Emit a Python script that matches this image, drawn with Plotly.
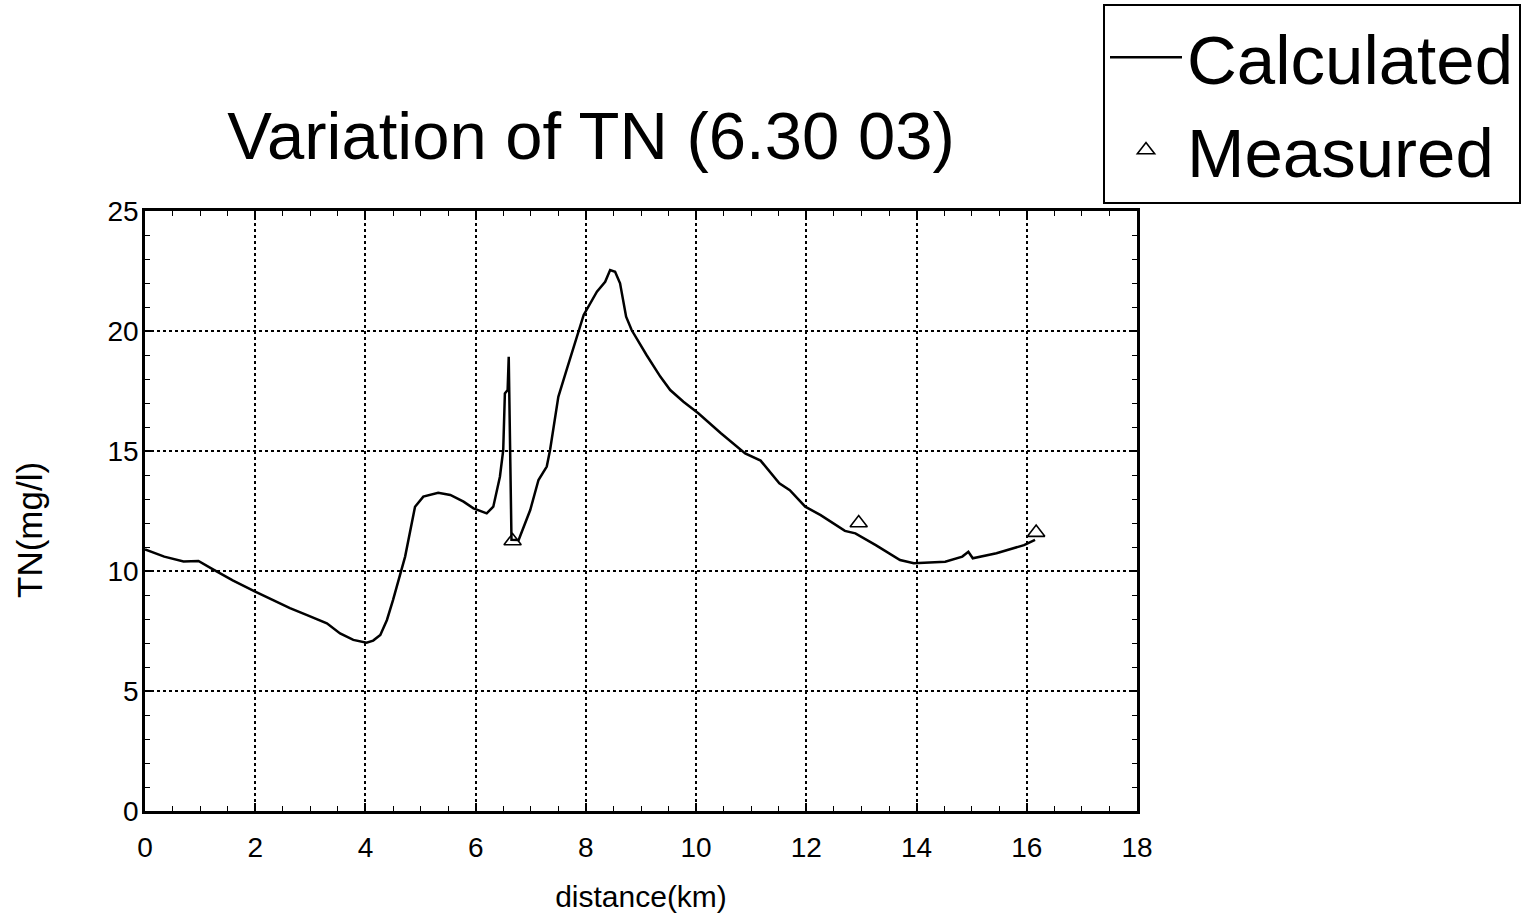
import plotly.graph_objects as go

# Calculated total nitrogen along the river (km, mg/l)
distance_km = [0.0, 0.35, 0.7, 0.97, 1.21, 1.6, 2.0, 2.63, 2.93, 3.3, 3.54, 3.78,
               4.02, 4.14, 4.27, 4.39, 4.5, 4.72, 4.9, 5.05, 5.32, 5.54, 5.78, 5.96,
               6.2, 6.32, 6.44, 6.5, 6.53, 6.58, 6.6, 6.65, 6.78, 6.99, 7.14, 7.29,
               7.35, 7.5, 7.65, 7.86, 7.96, 8.2, 8.35, 8.44, 8.53, 8.62, 8.73, 8.83,
               9.1, 9.35, 9.53, 9.77, 10.04, 10.45, 10.89, 11.17, 11.51, 11.7, 11.98,
               12.26, 12.7, 12.89, 13.26, 13.7, 13.95, 14.52, 14.83, 14.94, 15.02,
               15.45, 15.95, 16.15]
tn_calculated = [10.9, 10.6, 10.4, 10.42, 10.1, 9.6, 9.14, 8.45, 8.17, 7.82, 7.4, 7.13,
                 7.01, 7.1, 7.33, 7.96, 8.79, 10.6, 12.68, 13.1, 13.26, 13.17, 12.89, 12.61,
                 12.4, 12.68, 13.93, 15.04, 17.4, 17.54, 18.93, 11.3, 11.29, 12.54, 13.79, 14.35,
                 15.04, 17.26, 18.38, 19.9, 20.67, 21.64, 22.05, 22.54, 22.47, 21.99, 20.6, 20.04,
                 19.0, 18.1, 17.54, 17.05, 16.57, 15.74, 14.9, 14.6, 13.65, 13.37, 12.68,
                 12.33, 11.67, 11.57, 11.08, 10.46, 10.32, 10.39, 10.6, 10.8, 10.53,
                 10.74, 11.08, 11.3]

# Field measurements
measured_km = [6.67, 12.95, 16.17]
tn_measured = [11.25, 12.0, 11.6]

x_ticks = [0, 2, 4, 6, 8, 10, 12, 14, 16, 18]
y_ticks = [0, 5, 10, 15, 20, 25]

SANS = "Liberation Sans, Arial, sans-serif"
W, H = 1530, 921

fig = go.Figure()
fig.add_trace(go.Scatter(
    x=distance_km, y=tn_calculated, mode="lines", name="Calculated",
    line=dict(color="black", width=2.5),
))
fig.add_trace(go.Scatter(
    x=measured_km, y=tn_measured, mode="markers", name="Measured",
    marker=dict(symbol="triangle-up-open", size=15, color="black",
                line=dict(color="black", width=1.6)),
))

axis_common = dict(
    showline=True, linecolor="black", linewidth=2.5, mirror="ticks",
    ticks="inside", tickcolor="black", tickwidth=1.5, ticklen=8,
    showgrid=True, gridcolor="black", gridwidth=1.6, griddash="dot",
    zeroline=False,
    tickfont=dict(family=SANS, size=28, color="black"),
)

fig.update_xaxes(
    range=[0, 18], tickvals=x_ticks, ticktext=[str(v) for v in x_ticks],
    minor=dict(dtick=0.5, ticks="inside", ticklen=5, tickcolor="black",
               tickwidth=1.2, showgrid=False),
    title=dict(text="distance(km)", font=dict(family=SANS, size=30, color="black"),
               standoff=24),
    ticklabelstandoff=10,
    **axis_common,
)
fig.update_yaxes(
    range=[0, 25], tickvals=y_ticks, ticktext=[str(v) for v in y_ticks],
    minor=dict(dtick=1, ticks="inside", ticklen=5, tickcolor="black",
               tickwidth=1.2, showgrid=False),
    ticklabelstandoff=-2,
    **axis_common,
)

# y-axis caption, placed in page pixels
fig.add_annotation(
    text="TN(mg/l)", textangle=-90, showarrow=False,
    xref="paper", yref="paper",
    x=(29 - 145) / 992, y=(811 - 530) / 600, xanchor="center", yanchor="middle",
    font=dict(family=SANS, size=35, color="black"),
)

fig.update_layout(
    width=W, height=H,
    margin=dict(l=145, r=393, t=211, b=110, autoexpand=False),
    paper_bgcolor="white", plot_bgcolor="white",
    title=dict(text="Variation of TN (6.30 03)",
               font=dict(family=SANS, size=67, color="black"),
               x=591 / W, xanchor="center", xref="container",
               y=1 - 136 / H, yanchor="middle", yref="container"),
    legend=dict(
        x=1103 / W, y=1 - 4 / H, xanchor="left", yanchor="top",
        xref="container", yref="container",
        bordercolor="black", borderwidth=2, bgcolor="white",
        font=dict(family=SANS, size=69, color="black"),
        tracegroupgap=0, itemwidth=72,
    ),
    showlegend=True,
)

fig.write_html("out.html")
